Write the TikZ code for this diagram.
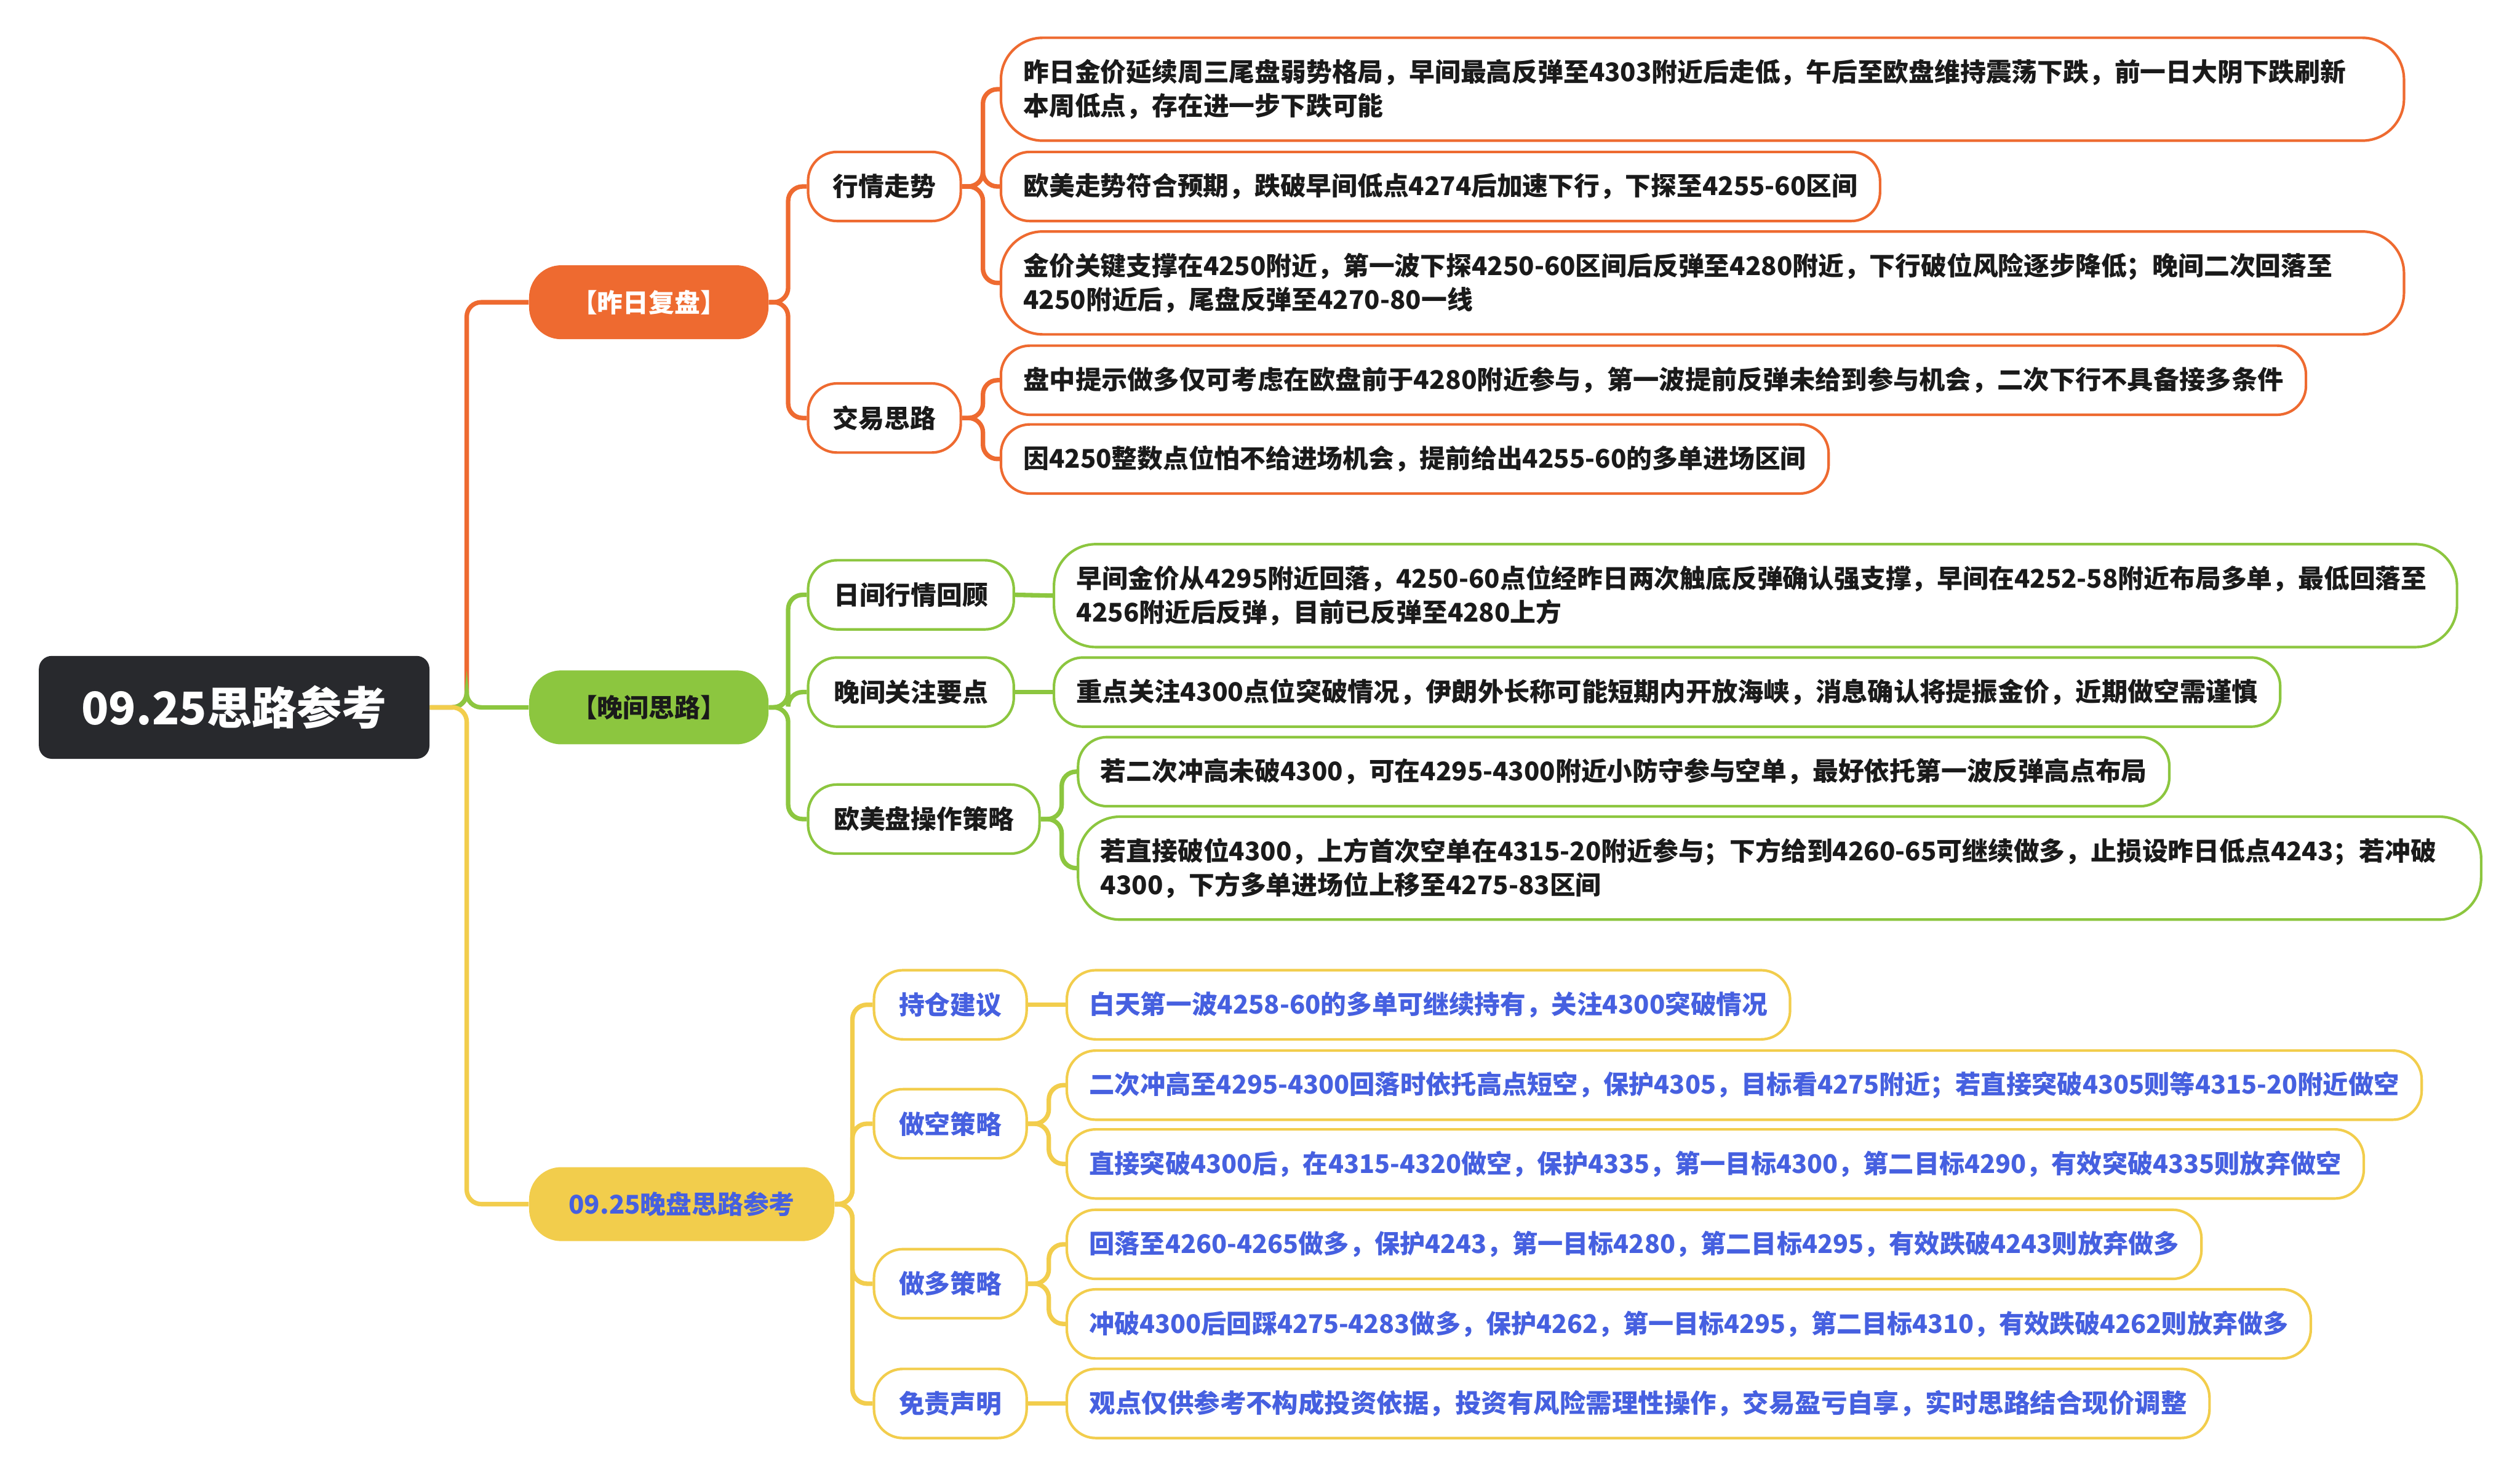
\documentclass[tikz,border=0pt]{standalone}
\usepackage{fontspec}
\usepackage{graphicx}
\setmainfont{Noto Sans CJK SC}
\definecolor{rootc}{HTML}{28292D}
\definecolor{orc}{HTML}{EE6A30}
\definecolor{grc}{HTML}{8CC63F}
\definecolor{yec}{HTML}{F2CD4C}
\definecolor{blc}{HTML}{4660E0}
\definecolor{txc}{HTML}{1A1A1A}
\newcommand{\fsn}{\fontsize{16}{21}\selectfont\bfseries}
\newcommand{\fitto}[2]{\resizebox{#1}{\height}{#2}}
\begin{document}
\begin{tikzpicture}[x=1pt,y=-1pt,
  rootbox/.style={fill=rootc, rounded corners=8pt, minimum width=243pt, minimum height=64pt, inner sep=0pt, text=white, anchor=west, font=\fontsize{28}{32}\selectfont\bfseries},
  lvone/.style={rounded corners=20pt, minimum height=46pt, minimum width=149pt, inner sep=0pt, anchor=west, font=\fsn},
  lvtwo/.style={draw, line width=1.6pt, fill=white, rounded corners=18pt, minimum height=43pt, minimum width=95pt, inner sep=0pt, anchor=west, font=\fsn},
  leaf/.style={draw, line width=1.6pt, fill=white, rounded corners=18pt, minimum height=43pt, inner xsep=14pt, inner ysep=0pt, align=left, anchor=west, font=\fsn},
  leaftwo/.style={leaf, minimum height=64pt, rounded corners=26pt},
  conn/.style={line width=2.8pt, rounded corners=9pt}
]
\useasboundingbox (0,0) rectangle (1568,918.7);

% ---------- nodes ----------
\node[rootbox] (root) at (24,440) {09.25思路参考};

\node[lvone, fill=orc, text=white] (A) at (329,188) {【昨日复盘】};
\node[lvone, fill=grc, text=txc] (B) at (329,440) {【晚间思路】};
\node[lvone, fill=yec, text=blc, minimum width=190pt] (C) at (329,749) {09.25晚盘思路参考};

% orange group
\node[lvtwo, draw=orc, text=txc] (A1) at (502,116) {行情走势};
\node[lvtwo, draw=orc, text=txc] (A2) at (502,260) {交易思路};
\node[leaftwo, draw=orc, text=txc, text width=845pt] (A11) at (622,55.5) {昨日金价延续周三尾盘弱势格局，早间最高反弹至4303附近后走低，午后至欧盘维持震荡下跌，前一日大阴下跌刷新\\本周低点，存在进一步下跌可能};
\node[leaf, draw=orc, text=txc, text width=519pt] (A12) at (622,116) {\fitto{519pt}{欧美走势符合预期，跌破早间低点4274后加速下行，下探至4255-60区间}};
\node[leaftwo, draw=orc, text=txc, text width=845pt] (A13) at (622,176) {金价关键支撑在4250附近，第一波下探4250-60区间后反弹至4280附近，下行破位风险逐步降低；晚间二次回落至\\4250附近后，尾盘反弹至4270-80一线};
\node[leaf, draw=orc, text=txc, text width=784pt] (A21) at (622,236.5) {\fitto{784pt}{盘中提示做多仅可考虑在欧盘前于4280附近参与，第一波提前反弹未给到参与机会，二次下行不具备接多条件}};
\node[leaf, draw=orc, text=txc, text width=487pt] (A22) at (622,285.5) {\fitto{487pt}{因4250整数点位怕不给进场机会，提前给出4255-60的多单进场区间}};

% green group
\node[lvtwo, draw=grc, text=txc, minimum width=128pt] (B1) at (502,370) {日间行情回顾};
\node[lvtwo, draw=grc, text=txc, minimum width=128pt] (B2) at (502,430.5) {晚间关注要点};
\node[lvtwo, draw=grc, text=txc, minimum width=144pt] (B3) at (502,509.5) {欧美盘操作策略};
\node[leaftwo, draw=grc, text=txc, text width=845pt] (B11) at (655,370.5) {早间金价从4295附近回落，4250-60点位经昨日两次触底反弹确认强支撑，早间在4252-58附近布局多单，最低回落至\\4256附近后反弹，目前已反弹至4280上方};
\node[leaf, draw=grc, text=txc, text width=735pt] (B21) at (655,430.5) {\fitto{735pt}{重点关注4300点位突破情况，伊朗外长称可能短期内开放海峡，消息确认将提振金价，近期做空需谨慎}};
\node[leaf, draw=grc, text=txc, text width=651pt] (B31) at (670,480) {\fitto{651pt}{若二次冲高未破4300，可在4295-4300附近小防守参与空单，最好依托第一波反弹高点布局}};
\node[leaftwo, draw=grc, text=txc, text width=845pt] (B32) at (670,540) {若直接破位4300，上方首次空单在4315-20附近参与；下方给到4260-65可继续做多，止损设昨日低点4243；若冲破\\4300，下方多单进场位上移至4275-83区间};

% yellow group
\node[lvtwo, draw=yec, text=blc] (C1) at (543,625) {持仓建议};
\node[lvtwo, draw=yec, text=blc] (C2) at (543,699) {做空策略};
\node[lvtwo, draw=yec, text=blc] (C3) at (543,798.5) {做多策略};
\node[lvtwo, draw=yec, text=blc] (C4) at (543,873) {免责声明};
\node[leaf, draw=yec, text=blc, text width=422pt] (C11) at (663,625) {\fitto{422pt}{白天第一波4258-60的多单可继续持有，关注4300突破情况}};
\node[leaf, draw=yec, text=blc, text width=815pt] (C21) at (663,675) {\fitto{815pt}{二次冲高至4295-4300回落时依托高点短空，保护4305，目标看4275附近；若直接突破4305则等4315-20附近做空}};
\node[leaf, draw=yec, text=blc, text width=779pt] (C22) at (663,724) {\fitto{779pt}{直接突破4300后，在4315-4320做空，保护4335，第一目标4300，第二目标4290，有效突破4335则放弃做空}};
\node[leaf, draw=yec, text=blc, text width=678pt] (C31) at (663,774) {\fitto{678pt}{回落至4260-4265做多，保护4243，第一目标4280，第二目标4295，有效跌破4243则放弃做多}};
\node[leaf, draw=yec, text=blc, text width=746pt] (C32) at (663,823.5) {\fitto{746pt}{冲破4300后回踩4275-4283做多，保护4262，第一目标4295，第二目标4310，有效跌破4262则放弃做多}};
\node[leaf, draw=yec, text=blc, text width=683pt] (C41) at (663,873) {\fitto{683pt}{观点仅供参考不构成投资依据，投资有风险需理性操作，交易盈亏自享，实时思路结合现价调整}};

% ---------- connectors ----------
\draw[conn, orc] (root.east) -- ++(23,0) |- (A.west);
\draw[conn, grc] (root.east) -- ++(23,0) |- (B.west);
\draw[conn, yec] (root.east) -- ++(23,0) |- (C.west);

\foreach \c in {A1,A2} \draw[conn, orc] (A.east) -- ++(12,0) |- (\c.west);
\foreach \c in {A11,A12,A13} \draw[conn, orc] (A1.east) -- ++(13,0) |- (\c.west);
\foreach \c in {A21,A22} \draw[conn, orc] (A2.east) -- ++(13,0) |- (\c.west);

\foreach \c in {B1,B2,B3} \draw[conn, grc] (B.east) -- ++(12,0) |- (\c.west);
\draw[conn, grc] (B1.east) -- (B11.west);
\draw[conn, grc] (B2.east) -- (B21.west);
\foreach \c in {B31,B32} \draw[conn, grc] (B3.east) -- ++(13,0) |- (\c.west);

\foreach \c in {C1,C2,C3,C4} \draw[conn, yec] (C.east) -- ++(11,0) |- (\c.west);
\draw[conn, yec] (C1.east) -- (C11.west);
\foreach \c in {C21,C22} \draw[conn, yec] (C2.east) -- ++(13,0) |- (\c.west);
\foreach \c in {C31,C32} \draw[conn, yec] (C3.east) -- ++(13,0) |- (\c.west);
\draw[conn, yec] (C4.east) -- (C41.west);
\end{tikzpicture}
\end{document}
